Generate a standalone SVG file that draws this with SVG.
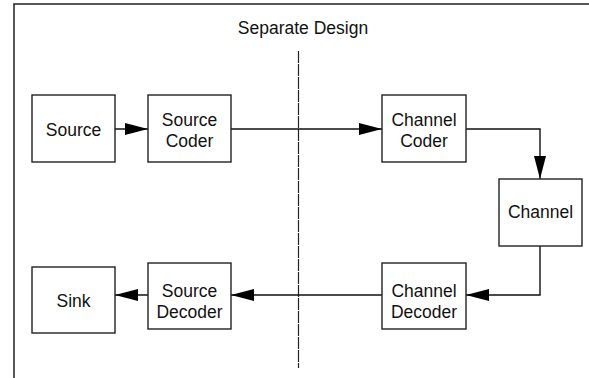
<svg xmlns="http://www.w3.org/2000/svg" width="589" height="378" viewBox="0 0 589 378">
<style>
.box{fill:#fff;stroke:#222;stroke-width:1.4}
.t{font-family:"Liberation Sans",Arial,sans-serif;font-size:17.5px;fill:#111;text-anchor:middle}
.c{fill:none;stroke:#111;stroke-width:1.4}
.frame{fill:none;stroke:#222;stroke-width:1.5}
</style>
<defs>
<marker id="ah" markerUnits="userSpaceOnUse" markerWidth="24" markerHeight="14" refX="23" refY="7" orient="auto">
<path d="M0,1 L23,7 L0,13 Z" fill="#000"/>
</marker>
</defs>
<path class="frame" d="M14,378 L14,4 L589,4"/>
<text class="t" x="303" y="34">Separate Design</text>
<line x1="298.5" y1="51" x2="298.5" y2="368" stroke="#222" stroke-width="1.2" stroke-dasharray="12,1"/>
<g id="connectors">
<line class="c" x1="115" y1="129" x2="148" y2="129" marker-end="url(#ah)"/>
<line class="c" x1="231" y1="129" x2="382" y2="129" marker-end="url(#ah)"/>
<polyline class="c" points="466,129 540,129 540,179" marker-end="url(#ah)"/>
<polyline class="c" points="540,246 540,295 466,295" marker-end="url(#ah)"/>
<line class="c" x1="382" y1="295" x2="231" y2="295" marker-end="url(#ah)"/>
<line class="c" x1="148" y1="295" x2="115" y2="295" marker-end="url(#ah)"/>
</g>
<g id="source">
<rect class="box" x="32" y="95" width="83" height="67"/>
<text class="t" x="73.5" y="136">Source</text>
</g>
<g id="source-coder">
<rect class="box" x="148" y="95" width="83" height="67"/>
<text class="t" x="189.5" y="126">Source</text>
<text class="t" x="189.5" y="147">Coder</text>
</g>
<g id="channel-coder">
<rect class="box" x="382" y="95" width="84" height="67"/>
<text class="t" x="424" y="126">Channel</text>
<text class="t" x="424" y="147">Coder</text>
</g>
<g id="channel">
<rect class="box" x="499" y="179" width="83" height="67"/>
<text class="t" x="540.5" y="218">Channel</text>
</g>
<g id="channel-decoder">
<rect class="box" x="382" y="263" width="84" height="66"/>
<text class="t" x="424" y="297">Channel</text>
<text class="t" x="424" y="318">Decoder</text>
</g>
<g id="source-decoder">
<rect class="box" x="148" y="263" width="83" height="66"/>
<text class="t" x="189.5" y="297">Source</text>
<text class="t" x="189.5" y="318">Decoder</text>
</g>
<g id="sink">
<rect class="box" x="32" y="267" width="83" height="66"/>
<text class="t" x="73.5" y="307">Sink</text>
</g>
</svg>
